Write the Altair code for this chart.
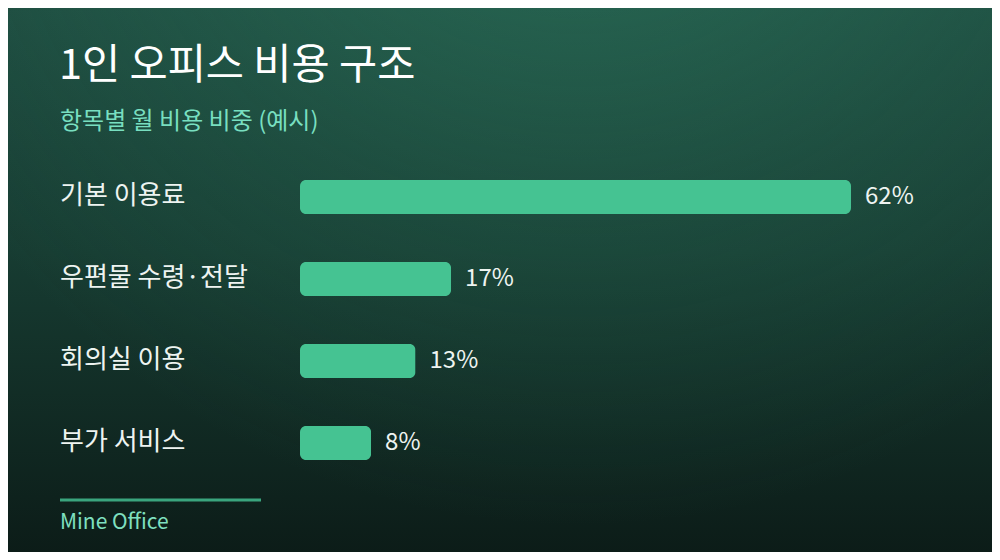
import altair as alt
import pandas as pd

title_text = "1인 오피스 비용 구조"
subtitle_text = "항목별 월 비용 비중 (예시)"
footer_text = "Mine Office"
categories = ["기본 이용료", "우편물 수령·전달", "회의실 이용", "부가 서비스"]
values = [62, 17, 13, 8]
labels = [f"{v}%" for v in values]

FONT = "Noto Sans CJK KR"
W, H = 984, 544

df = pd.DataFrame({"cat": categories, "value": values, "label": labels})
one = pd.DataFrame({"k": [0]})

bg_linear = alt.Gradient(
    gradient="linear", x1=0, y1=0, x2=0, y2=1,
    stops=[
        alt.GradientStop(color="#1e4c40", offset=0),
        alt.GradientStop(color="#173c32", offset=0.45),
        alt.GradientStop(color="#0c1c18", offset=1),
    ],
)
bg_radial = alt.Gradient(
    gradient="radial", x1=0.58, y1=0, r1=0, x2=0.58, y2=0, r2=0.75,
    stops=[
        alt.GradientStop(color="rgba(50,135,105,0.5)", offset=0),
        alt.GradientStop(color="rgba(50,135,105,0.17)", offset=0.6),
        alt.GradientStop(color="rgba(50,135,105,0)", offset=1),
    ],
)

bg1 = alt.Chart(one).mark_rect(fill=bg_linear).encode(
    x=alt.value(-2), x2=alt.value(W + 2), y=alt.value(-2), y2=alt.value(H + 2)
)
bg2 = alt.Chart(one).mark_rect(fill=bg_radial).encode(
    x=alt.value(-2), x2=alt.value(W + 2), y=alt.value(-2), y2=alt.value(H + 2)
)

xs = alt.Scale(domain=[0, 62], range=[292, 843], nice=False)
ys = alt.Scale(domain=categories, range=[148, 476], paddingInner=0, paddingOuter=0)

base = alt.Chart(df)
bars = base.mark_bar(size=34, cornerRadius=6, color="#45c392").encode(
    x=alt.X("value:Q", scale=xs, axis=None),
    y=alt.Y("cat:N", scale=ys, axis=None, sort=categories),
)
pct = base.mark_text(align="left", baseline="middle", dx=14, fontSize=24,
                     font=FONT, color="#eef4f1").encode(
    x=alt.X("value:Q", scale=xs, axis=None),
    y=alt.Y("cat:N", scale=ys, axis=None, sort=categories),
    text="label:N",
)
cats = base.mark_text(align="left", baseline="middle", fontSize=26, dy=-1,
                      font=FONT, color="#eef4f1").encode(
    x=alt.value(52),
    y=alt.Y("cat:N", scale=ys, axis=None, sort=categories),
    text="cat:N",
)

title = alt.Chart(pd.DataFrame({"t": [title_text]})).mark_text(
    align="left", baseline="middle", fontSize=41.5, fontWeight="normal",
    font=FONT, color="#ffffff").encode(x=alt.value(51), y=alt.value(59), text="t:N")
subtitle = alt.Chart(pd.DataFrame({"t": [subtitle_text]})).mark_text(
    align="left", baseline="middle", fontSize=24,
    font=FONT, color="#78dfc0").encode(x=alt.value(52), y=alt.value(114), text="t:N")
rule = alt.Chart(one).mark_rule(color="#3aa57e", strokeWidth=3).encode(
    x=alt.value(52), x2=alt.value(253), y=alt.value(492))
footer = alt.Chart(pd.DataFrame({"t": [footer_text]})).mark_text(
    align="left", baseline="middle", fontSize=21,
    font=FONT, color="#7fe0c0").encode(x=alt.value(52), y=alt.value(515), text="t:N")

chart = alt.layer(bg1, bg2, bars, pct, cats, title, subtitle, rule, footer).properties(
    width=W, height=H,
    autosize=alt.AutoSizeParams(type="none"),
    padding=0,
    background="#1a4236",
).configure_view(stroke=None)

chart.save("out.html", embed_options={"renderer": "svg", "actions": False})
